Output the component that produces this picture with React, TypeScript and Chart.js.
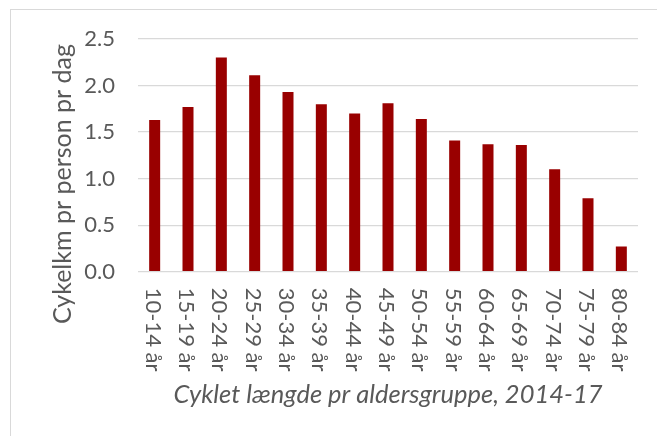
import React, { useEffect, useRef } from "react";
import { Chart, registerables } from "chart.js";

Chart.register(...registerables);

const categories = [
  "10-14 år", "15-19 år", "20-24 år", "25-29 år", "30-34 år",
  "35-39 år", "40-44 år", "45-49 år", "50-54 år", "55-59 år",
  "60-64 år", "65-69 år", "70-74 år", "75-79 år", "80-84 år",
];
const values = [1.63, 1.77, 2.30, 2.11, 1.93, 1.80, 1.70, 1.81, 1.64, 1.41, 1.37, 1.36, 1.10, 0.79, 0.27];
const yTicks = [0, 0.5, 1.0, 1.5, 2.0, 2.5];
const yTitle = "Cykelkm pr person pr dag";
const xTitle = "Cyklet længde pr aldersgruppe, 2014-17";

const TEXT = "#595959";
const FAMILY = "Lato";

const textPlugin = {
  id: "customText",
  afterDraw(chart: any) {
    const ctx = chart.ctx;
    const xs = chart.scales.x;
    const area = chart.chartArea;
    ctx.save();
    ctx.fillStyle = TEXT;
    ctx.font = `22px ${FAMILY}`;
    ctx.textAlign = "left";
    ctx.textBaseline = "middle";
    categories.forEach((c, i) => {
      const px = xs.getPixelForTick(i);
      ctx.save();
      ctx.translate(px - 2, area.bottom + 16);
      ctx.rotate(Math.PI / 2);
      ctx.fillText(c, 0, 0);
      ctx.restore();
    });
    ctx.font = `italic 25.5px ${FAMILY}`;
    ctx.textAlign = "center";
    ctx.fillText(xTitle, (area.left + area.right) / 2, area.bottom + 123);
    ctx.save();
    ctx.translate(63, 184);
    ctx.rotate(-Math.PI / 2);
    ctx.font = `25px ${FAMILY}`;
    ctx.fillText(yTitle, 0, 0);
    ctx.restore();
    ctx.restore();
  },
};

export default function App() {
  const ref = useRef<HTMLCanvasElement>(null);
  useEffect(() => {
    if (!ref.current) return;
    const chart = new Chart(ref.current, {
      type: "bar",
      data: {
        labels: categories,
        datasets: [
          {
            data: values,
            backgroundColor: "#990000",
            borderWidth: 0,
            barPercentage: 0.33,
            categoryPercentage: 1,
          },
        ],
      },
      options: {
        animation: false,
        responsive: false,
        layout: { padding: { top: 39, right: 19, left: 0, bottom: 0 } },
        plugins: { legend: { display: false }, tooltip: { enabled: false } },
        scales: {
          x: {
            grid: { display: false },
            border: { display: false },
            ticks: { display: false },
            afterFit: (s: any) => {
              s.height = 164.3;
            },
          },
          y: {
            min: yTicks[0],
            max: yTicks[yTicks.length - 1],
            border: { display: false },
            grid: { color: "#d9d9d9", drawTicks: false, lineWidth: 1.3 },
            ticks: {
              stepSize: yTicks[1] - yTicks[0],
              padding: 23,
              color: TEXT,
              font: { family: FAMILY, size: 22 },
              callback: (v: any) => Number(v).toFixed(1),
            },
            afterFit: (s: any) => {
              s.width = 138;
            },
          },
        },
      },
      plugins: [textPlugin],
    });
    return () => chart.destroy();
  }, []);
  return (
    <div style={{ position: "fixed", left: 0, top: 0, width: 657, height: 436, background: "#fff", overflow: "hidden" }}>
      <div
        style={{
          position: "absolute",
          left: 10,
          top: 9,
          width: 660,
          height: 440,
          border: "1.5px solid #d9d9d9",
        }}
      />
      <canvas ref={ref} width={657} height={436} style={{ position: "absolute", left: 0, top: 0 }} />
    </div>
  );
}
